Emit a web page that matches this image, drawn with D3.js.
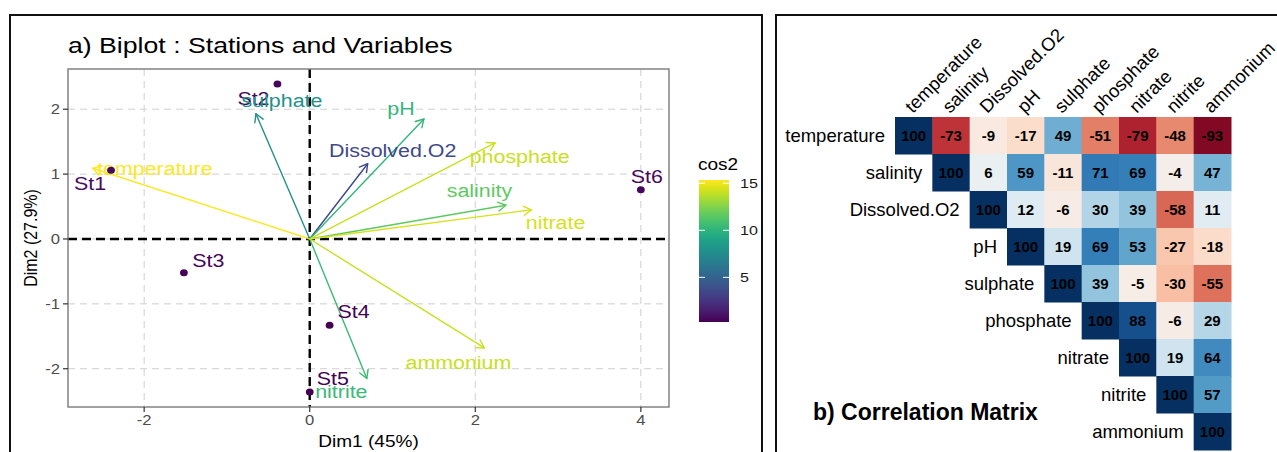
<!DOCTYPE html>
<html>
<head>
<meta charset="utf-8">
<script src="https://cdn.jsdelivr.net/npm/d3@7"></script>
<style>
  html, body { margin: 0; padding: 0; background: #fff; }
  svg { display: block; font-family: "Liberation Sans", Arial, Helvetica, sans-serif; }
</style>
</head>
<body>
<svg id="fig" width="1277" height="452"></svg>
<script>
// ---- PCA biplot data ----
const stationNames = ["St1", "St2", "St3", "St4", "St5", "St6"];
const stationDim1 = [-2.40, -0.39, -1.52, 0.24, 0.00, 4.00];
const stationDim2 = [1.06, 2.39, -0.52, -1.33, -2.36, 0.76];
const stationCos2 = [0.7, 0.5, 0.4, 0.25, 0.3, 0.6];

const variableNames = ["temperature", "salinity", "Dissolved.O2", "pH", "sulphate",
                       "phosphate", "nitrate", "nitrite", "ammonium"];
const variableDim1 = [-2.62, 2.37, 0.70, 1.38, -0.65, 2.24, 2.68, 0.69, 2.11];
const variableDim2 = [1.09, 0.52, 1.16, 1.85, 1.93, 1.48, 0.45, -2.15, -1.68];
const variableCos2 = [15.35, 11.6, 3.6, 10.2, 7.8, 14.1, 14.4, 10.5, 14.1];

const xTicks = [-2, 0, 2, 4];
const yTicks = [-2, -1, 0, 1, 2];
const cos2Ticks = [5, 10, 15];

// ---- correlation matrix (upper triangle, in percent) ----
const corrVars = ["temperature", "salinity", "Dissolved.O2", "pH", "sulphate",
                  "phosphate", "nitrate", "nitrite", "ammonium"];
const corrRows = [
  [100, -73, -9, -17, 49, -51, -79, -48, -93],
  [100, 6, 59, -11, 71, 69, -4, 47],
  [100, 12, -6, 30, 39, -58, 11],
  [100, 19, 69, 53, -27, -18],
  [100, 39, -5, -30, -55],
  [100, 88, -6, 29],
  [100, 19, 64],
  [100, 57],
  [100]
];

// ---- layout ----
const SX = 1.19;               // horizontal stretch of the biplot text
const plot = { left: 68, right: 669, top: 69, bottom: 407 };
// label placement (px) relative to arrow tips / points: [dx, dy to baseline]
const varLabelNudge = [[62, 7], [-26.5, -8], [25, -7], [-23, -4], [26, -7],
                       [24.5, 20], [24, 19], [-25.5, 19.5], [-26, 21]];
const stLabelNudge = [[-21, 20], [-24, 21], [24.5, -6], [24, -7], [23, -7], [6, -7]];

const svg = d3.select("#fig");

function stext(g, x, y, str, o = {}) {
  const t = g.append("text")
    .attr("transform", `translate(${x},${y}) scale(${SX},1)` + (o.rotate ? ` rotate(${o.rotate})` : ""))
    .attr("text-anchor", o.anchor || "start")
    .attr("font-size", o.size || 16)
    .attr("fill", o.fill || "#000")
    .text(str);
  if (o.weight) t.attr("font-weight", o.weight);
  return t;
}

// ================= a) Biplot =================
const left = svg.append("g");
left.append("rect").attr("x", 10).attr("y", 15).attr("width", 752).attr("height", 470)
  .attr("fill", "none").attr("stroke", "#111").attr("stroke-width", 2);

stext(left, 68, 53, "a) Biplot : Stations and Variables", { size: 22.4 });

const x = d3.scaleLinear().domain([-2.92, 4.34]).range([plot.left, plot.right]);
const y = d3.scaleLinear().domain([-2.59, 2.62]).range([plot.bottom, plot.top]);

const allCos2 = variableCos2.concat(stationCos2);
const color = d3.scaleSequential(d3.interpolateViridis).domain(d3.extent(allCos2));

// grid
const grid = left.append("g").attr("stroke", "#cfcfcf").attr("stroke-width", 1).attr("stroke-dasharray", "7,5");
xTicks.forEach(t => grid.append("line").attr("x1", x(t)).attr("x2", x(t)).attr("y1", plot.top).attr("y2", plot.bottom));
yTicks.forEach(t => grid.append("line").attr("y1", y(t)).attr("y2", y(t)).attr("x1", plot.left).attr("x2", plot.right));

// zero reference lines
const zero = left.append("g").attr("stroke", "#000").attr("stroke-width", 2.4).attr("stroke-dasharray", "9,5");
zero.append("line").attr("x1", x(0)).attr("x2", x(0)).attr("y1", plot.top).attr("y2", plot.bottom);
zero.append("line").attr("y1", y(0)).attr("y2", y(0)).attr("x1", plot.left).attr("x2", plot.right);

// panel border
left.append("rect").attr("x", plot.left).attr("y", plot.top)
  .attr("width", plot.right - plot.left).attr("height", plot.bottom - plot.top)
  .attr("fill", "none").attr("stroke", "#7a7a7a").attr("stroke-width", 1.4);

// axes ticks and labels
const ax = left.append("g");
xTicks.forEach(t => {
  ax.append("line").attr("x1", x(t)).attr("x2", x(t)).attr("y1", plot.bottom).attr("y2", plot.bottom + 5)
    .attr("stroke", "#333").attr("stroke-width", 1.2);
  stext(ax, x(t), plot.bottom + 18, String(t), { anchor: "middle", size: 14, fill: "#4d4d4d" });
});
yTicks.forEach(t => {
  ax.append("line").attr("x1", plot.left - 5).attr("x2", plot.left).attr("y1", y(t)).attr("y2", y(t))
    .attr("stroke", "#333").attr("stroke-width", 1.2);
  stext(ax, plot.left - 8, y(t) + 4.8, String(t), { anchor: "end", size: 14, fill: "#4d4d4d" });
});
stext(ax, (plot.left + plot.right) / 2, 447, "Dim1 (45%)", { anchor: "middle", size: 16 });
stext(ax, 37, (plot.top + plot.bottom) / 2, "Dim2 (27.9%)", { anchor: "middle", size: 16, rotate: -90 });

// variable arrows
const arrows = left.append("g").attr("fill", "none").attr("stroke-width", 1.4).attr("stroke-linecap", "round");
variableNames.forEach((name, i) => {
  const x0 = x(0), y0 = y(0), x1 = x(variableDim1[i]), y1 = y(variableDim2[i]);
  const c = color(variableCos2[i]);
  arrows.append("line").attr("x1", x0).attr("y1", y0).attr("x2", x1).attr("y2", y1).attr("stroke", c);
  const ang = Math.atan2(y1 - y0, x1 - x0), L = 9, a = Math.PI / 6;
  const p1 = [x1 - L * Math.cos(ang - a), y1 - L * Math.sin(ang - a)];
  const p2 = [x1 - L * Math.cos(ang + a), y1 - L * Math.sin(ang + a)];
  arrows.append("path").attr("d", `M${p1[0]},${p1[1]}L${x1},${y1}L${p2[0]},${p2[1]}`)
    .attr("stroke", c).attr("stroke-linejoin", "round");
});

// station labels
const stLab = left.append("g");
stationNames.forEach((name, i) => {
  stext(stLab, x(stationDim1[i]) + stLabelNudge[i][0], y(stationDim2[i]) + stLabelNudge[i][1], name,
    { anchor: "middle", size: 18, fill: color(stationCos2[i]) });
});

// variable labels
const varLab = left.append("g");
variableNames.forEach((name, i) => {
  stext(varLab, x(variableDim1[i]) + varLabelNudge[i][0], y(variableDim2[i]) + varLabelNudge[i][1], name,
    { anchor: "middle", size: 18, fill: color(variableCos2[i]) });
});

// station points
left.append("g").selectAll("ellipse").data(stationNames).join("ellipse")
  .attr("cx", (d, i) => x(stationDim1[i])).attr("cy", (d, i) => y(stationDim2[i]))
  .attr("rx", 3.9).attr("ry", 3.5)
  .attr("fill", (d, i) => color(stationCos2[i]));

// colour bar
const bar = { x: 699, w: 30, top: 180, bottom: 322 };
const defs = svg.append("defs");
const grad = defs.append("linearGradient").attr("id", "cos2grad")
  .attr("x1", 0).attr("y1", 1).attr("x2", 0).attr("y2", 0);
d3.range(0, 1.0001, 0.05).forEach(t => grad.append("stop").attr("offset", t).attr("stop-color", d3.interpolateViridis(t)));
const cb = left.append("g");
stext(cb, bar.x - 1, 170, "cos2", { size: 16 });
cb.append("rect").attr("x", bar.x).attr("y", bar.top).attr("width", bar.w).attr("height", bar.bottom - bar.top)
  .attr("fill", "url(#cos2grad)");
const cy = d3.scaleLinear().domain(color.domain()).range([bar.bottom, bar.top]);
cos2Ticks.forEach(t => {
  cb.append("line").attr("x1", bar.x).attr("x2", bar.x + 6).attr("y1", cy(t)).attr("y2", cy(t)).attr("stroke", "#fff").attr("stroke-width", 1);
  cb.append("line").attr("x1", bar.x + bar.w - 6).attr("x2", bar.x + bar.w).attr("y1", cy(t)).attr("y2", cy(t)).attr("stroke", "#fff").attr("stroke-width", 1);
  stext(cb, bar.x + bar.w + 11, cy(t) + 5, String(t), { size: 13.5, fill: "#1a1a1a" });
});

// ================= b) Correlation matrix =================
const right = svg.append("g");
right.append("rect").attr("x", 776).attr("y", 15).attr("width", 520).attr("height", 470)
  .attr("fill", "none").attr("stroke", "#111").attr("stroke-width", 2);

const cx = d3.scaleBand().domain(corrVars).range([895, 1231]);
const cyb = d3.scaleBand().domain(corrVars).range([117, 450]);
const corrColor = v => d3.interpolateRdBu((v / 100 + 1) / 2);

const cells = [];
corrRows.forEach((row, i) => row.forEach((v, k) => cells.push({ r: corrVars[i], c: corrVars[i + k], v })));

right.append("g").selectAll("rect").data(cells).join("rect")
  .attr("x", d => cx(d.c)).attr("y", d => cyb(d.r))
  .attr("width", cx.bandwidth() + 0.5).attr("height", cyb.bandwidth() + 0.5)
  .attr("fill", d => corrColor(d.v));

right.append("g").selectAll("text").data(cells).join("text")
  .attr("x", d => cx(d.c) + cx.bandwidth() / 2)
  .attr("y", d => cyb(d.r) + cyb.bandwidth() / 2 + 5.5)
  .attr("text-anchor", "middle").attr("font-size", 15).attr("font-weight", "bold")
  .attr("fill", "#000")
  .text(d => d.v);

// row labels
corrVars.forEach(name => {
  right.append("text")
    .attr("x", cx(name) - 10).attr("y", cyb(name) + cyb.bandwidth() / 2 + 6.5)
    .attr("text-anchor", "end").attr("font-size", 18.5).attr("fill", "#000").text(name);
});
// column labels
corrVars.forEach(name => {
  const px = cx(name) + cx.bandwidth() / 2 - 1, py = 114;
  right.append("text")
    .attr("transform", `translate(${px},${py}) rotate(-45)`)
    .attr("font-size", 18.5).attr("fill", "#000").text(name);
});

right.append("text").attr("x", 813).attr("y", 420)
  .attr("font-size", 23).attr("font-weight", "bold").attr("fill", "#000")
  .text("b) Correlation Matrix");
</script>
</body>
</html>
